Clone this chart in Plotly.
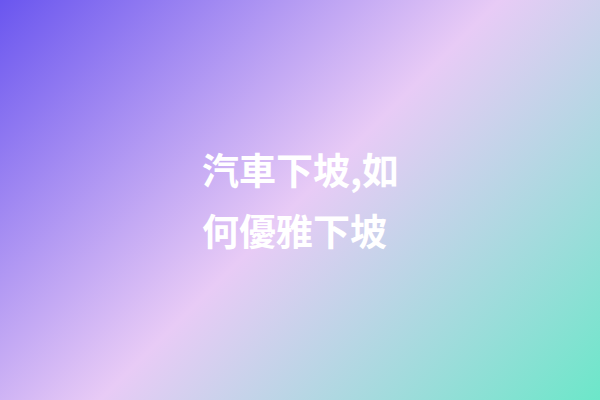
import base64
import plotly.graph_objects as go

# title text, one entry per line
lines = ["汽車下坡,如", "何優雅下坡"]

# background gradient stops (135deg, top-left -> bottom-right)
stop_offsets = [0.0, 0.5, 1.0]
stop_colors = ["#6a56ef", "#e8cbf6", "#6ce7c9"]

W, H = 600, 400

stops = "".join(
    '<stop offset="%s" stop-color="%s"/>' % (o, c)
    for o, c in zip(stop_offsets, stop_colors)
)
svg = (
    '<svg xmlns="http://www.w3.org/2000/svg" width="%d" height="%d">'
    '<defs><linearGradient id="g" gradientUnits="userSpaceOnUse" '
    'x1="55" y1="-55" x2="555" y2="445">%s</linearGradient></defs>'
    '<rect width="%d" height="%d" fill="url(#g)"/></svg>'
) % (W, H, stops, W, H)
src = "data:image/svg+xml;base64," + base64.b64encode(svg.encode()).decode()

fig = go.Figure()

fig.add_layout_image(
    source=src, xref="paper", yref="paper", x=0, y=1,
    sizex=1, sizey=1, xanchor="left", yanchor="top",
    sizing="stretch", layer="below",
)

line_y = [169, 230]  # pixel centre of each line, from top
for txt, py in zip(lines, line_y):
    fig.add_annotation(
        text="<b>%s</b>" % txt, xref="paper", yref="paper",
        x=200 / W, y=1 - py / H, xanchor="left", yanchor="middle",
        showarrow=False,
        font=dict(family="Noto Sans CJK TC", size=37, color="white"),
    )

fig.update_xaxes(visible=False)
fig.update_yaxes(visible=False)
fig.update_layout(
    width=W, height=H,
    margin=dict(l=0, r=0, t=0, b=0),
    paper_bgcolor="#ffffff", plot_bgcolor="rgba(0,0,0,0)",
    showlegend=False,
)

# drop the page's default body margin so the figure fills the window
fig.write_html("out.html", config={"displayModeBar": False},
               post_script="document.body.style.margin='0';")
